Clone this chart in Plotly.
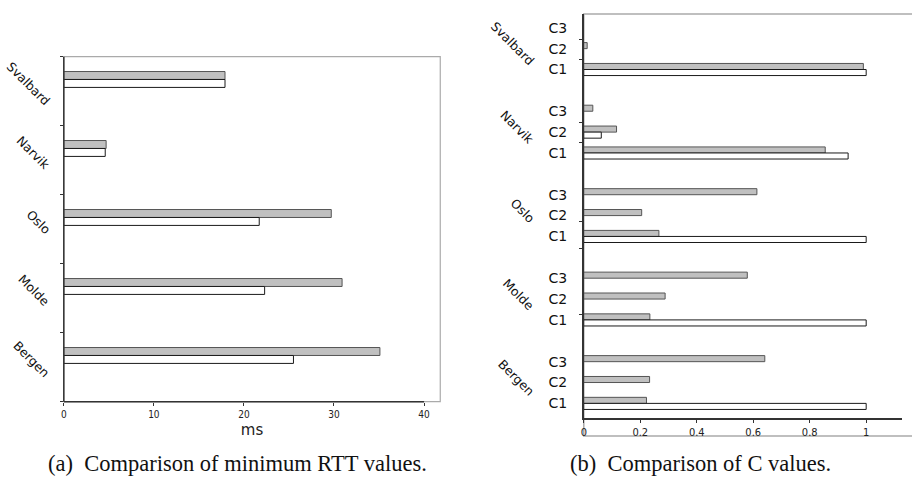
import plotly.graph_objects as go

# ---- data -------------------------------------------------------------
sites = ["Bergen", "Molde", "Oslo", "Narvik", "Svalbard"]  # bottom to top

# minimum RTT (ms)
rtt_gray = [35.1, 30.9, 29.7, 4.7, 17.9]
rtt_white = [25.5, 22.3, 21.7, 4.6, 17.9]

# C values per site, rows C1, C2, C3
c_rows = ["C1", "C2", "C3"]
c_gray = [
    [0.222, 0.233, 0.641],   # Bergen
    [0.234, 0.288, 0.579],   # Molde
    [0.266, 0.205, 0.613],   # Oslo
    [0.855, 0.116, 0.032],   # Narvik
    [0.990, 0.012, None],    # Svalbard
]
c_white = [
    [1.0, None, None],
    [1.0, None, None],
    [1.0, None, None],
    [0.936, 0.062, None],
    [1.0, None, None],
]

captions = ["(a)  Comparison of minimum RTT values.", "(b)  Comparison of C values."]

# ---- styling ----------------------------------------------------------
W, H = 912, 477
GRAY_FILL = "#c0c0c0"
GRAY_EDGE = "#555555"
WHITE_EDGE = "#1a1a1a"
AXIS = "#333333"
FRAME = "#aaaaaa"
SANS = "DejaVu Sans, Verdana, sans-serif"
COND = "DejaVu Sans Condensed, Liberation Sans Narrow, DejaVu Sans, sans-serif"
SERIF = "Liberation Serif, Times New Roman, serif"


def px_x(p):
    return p / W


def px_y(p):
    return 1 - p / H


fig = go.Figure()

# ---- (a) minimum RTT --------------------------------------------------
bar_pos = [i + 0.67 for i in range(len(sites))]
bw_a = 0.115
fig.add_trace(go.Bar(
    x=rtt_gray, y=bar_pos, orientation="h", width=bw_a, offset=0,
    marker=dict(color=GRAY_FILL, line=dict(color=GRAY_EDGE, width=1)),
    xaxis="x", yaxis="y", showlegend=False, hoverinfo="x"))
fig.add_trace(go.Bar(
    x=rtt_white, y=bar_pos, orientation="h", width=bw_a, offset=-bw_a,
    marker=dict(color="white", line=dict(color=WHITE_EDGE, width=1)),
    xaxis="x", yaxis="y", showlegend=False, hoverinfo="x"))

# ---- (b) C values -----------------------------------------------------
row_pos = [4 * g + k for g in range(len(sites)) for k in range(len(c_rows))]
row_txt = [c_rows[k] for g in range(len(sites)) for k in range(len(c_rows))]
gray_flat = [v for grp in c_gray for v in grp]
white_flat = [v for grp in c_white for v in grp]
bw_b = 0.29
fig.add_trace(go.Bar(
    x=gray_flat, y=row_pos, orientation="h", width=bw_b, offset=0,
    marker=dict(color=GRAY_FILL, line=dict(color=GRAY_EDGE, width=1)),
    xaxis="x2", yaxis="y2", showlegend=False, hoverinfo="x"))
fig.add_trace(go.Bar(
    x=white_flat, y=row_pos, orientation="h", width=bw_b, offset=-bw_b,
    marker=dict(color="white", line=dict(color=WHITE_EDGE, width=1)),
    xaxis="x2", yaxis="y2", showlegend=False, hoverinfo="x"))

# ---- axes -------------------------------------------------------------
fig.update_layout(
    width=W, height=H,
    margin=dict(l=0, r=0, t=0, b=0),
    paper_bgcolor="white", plot_bgcolor="rgba(0,0,0,0)",
    barmode="overlay",
    xaxis=dict(
        domain=[px_x(61), px_x(438.7)], range=[0, 41.8],
        tickvals=[0, 10, 20, 30, 40], ticks="outside", ticklen=3,
        tickcolor=AXIS, tickwidth=1, showline=False, showgrid=False,
        zeroline=False, tickfont=dict(family=COND, size=10, color="#222"),
        title=dict(text="ms", font=dict(family=SANS, size=15, color="#222"), standoff=5),
        anchor="y", fixedrange=True),
    yaxis=dict(
        domain=[px_y(401.7), px_y(56.7)], range=[0, 5],
        tickvals=[0, 1, 2, 3, 4, 5], ticks="outside", ticklen=3,
        tickcolor=AXIS, showticklabels=False, showline=False,
        showgrid=False, zeroline=False, anchor="x", fixedrange=True),
    xaxis2=dict(
        domain=[px_x(582.7), px_x(902.3)], range=[0, 1.128],
        tickvals=[0, 0.2, 0.4, 0.6, 0.8, 1],
        ticktext=["0", "0.2", "0.4", "0.6", "0.8", "1"],
        ticks="outside", ticklen=3, tickcolor=AXIS,
        showline=True, linecolor=AXIS, linewidth=1.5,
        showgrid=False, zeroline=False,
        tickfont=dict(family=COND, size=11, color="#222"),
        anchor="y2", fixedrange=True),
    yaxis2=dict(
        domain=[px_y(418), px_y(14)], range=[-0.70, 18.66],
        tickvals=row_pos, ticktext=row_txt, ticks="",
        ticklabelstandoff=12,
        tickfont=dict(family=SANS, size=14, color="#111"),
        minor=dict(tickvals=[17.45, 16.5, 13.45, 12.5, 8.7, 7.4, 4.25],
                   ticks="outside", ticklen=3, tickcolor=AXIS),
        showline=True, linecolor=AXIS, linewidth=1.5,
        showgrid=False, zeroline=False, anchor="x2", fixedrange=True),
)

# frames and dark axis lines
shapes = [
    # (a) light frame
    dict(type="rect", xref="x domain", yref="y domain", x0=0, x1=1, y0=0, y1=1,
         line=dict(color=FRAME, width=1.2), layer="below"),
    # (a) dark left axis and bottom axis up to the last tick
    dict(type="line", xref="x domain", yref="y domain", x0=0, x1=0, y0=0, y1=1,
         line=dict(color=AXIS, width=1.5)),
    dict(type="line", xref="x", yref="y domain", x0=0, x1=40, y0=0, y1=0,
         line=dict(color=AXIS, width=1.5)),
    # (b) light frame around axes and tick labels
    dict(type="rect", xref="paper", yref="paper",
         x0=px_x(582.7), x1=1.01, y0=px_y(436), y1=px_y(14),
         line=dict(color=FRAME, width=1.5), layer="below"),
]

annotations = []
# (a) rotated site labels
for i, name in enumerate(sites):
    annotations.append(dict(
        x=px_x(53), xref="paper", y=bar_pos[i], yref="y", yshift=-4,
        text=name, textangle=45, showarrow=False,
        xanchor="right", yanchor="middle",
        font=dict(family=SANS, size=12.5, color="#111")))
# (b) rotated site labels at the middle row of each group
for g, name in enumerate(sites):
    annotations.append(dict(
        x=px_x(539), xref="paper", y=4 * g + 1, yref="y2", yshift=5,
        text=name, textangle=45, showarrow=False,
        xanchor="right", yanchor="middle",
        font=dict(family=SANS, size=12.5, color="#111")))
# captions
annotations.append(dict(x=px_x(235.5), y=px_y(463), xref="paper", yref="paper",
                        text=captions[0], showarrow=False, xanchor="center",
                        yanchor="middle", font=dict(family=SERIF, size=22.5, color="#111")))
annotations.append(dict(x=px_x(699.5), y=px_y(463), xref="paper", yref="paper",
                        text=captions[1], showarrow=False, xanchor="center",
                        yanchor="middle", font=dict(family=SERIF, size=22.5, color="#111")))

fig.update_layout(shapes=shapes, annotations=annotations)

fig.write_html("out.html")
